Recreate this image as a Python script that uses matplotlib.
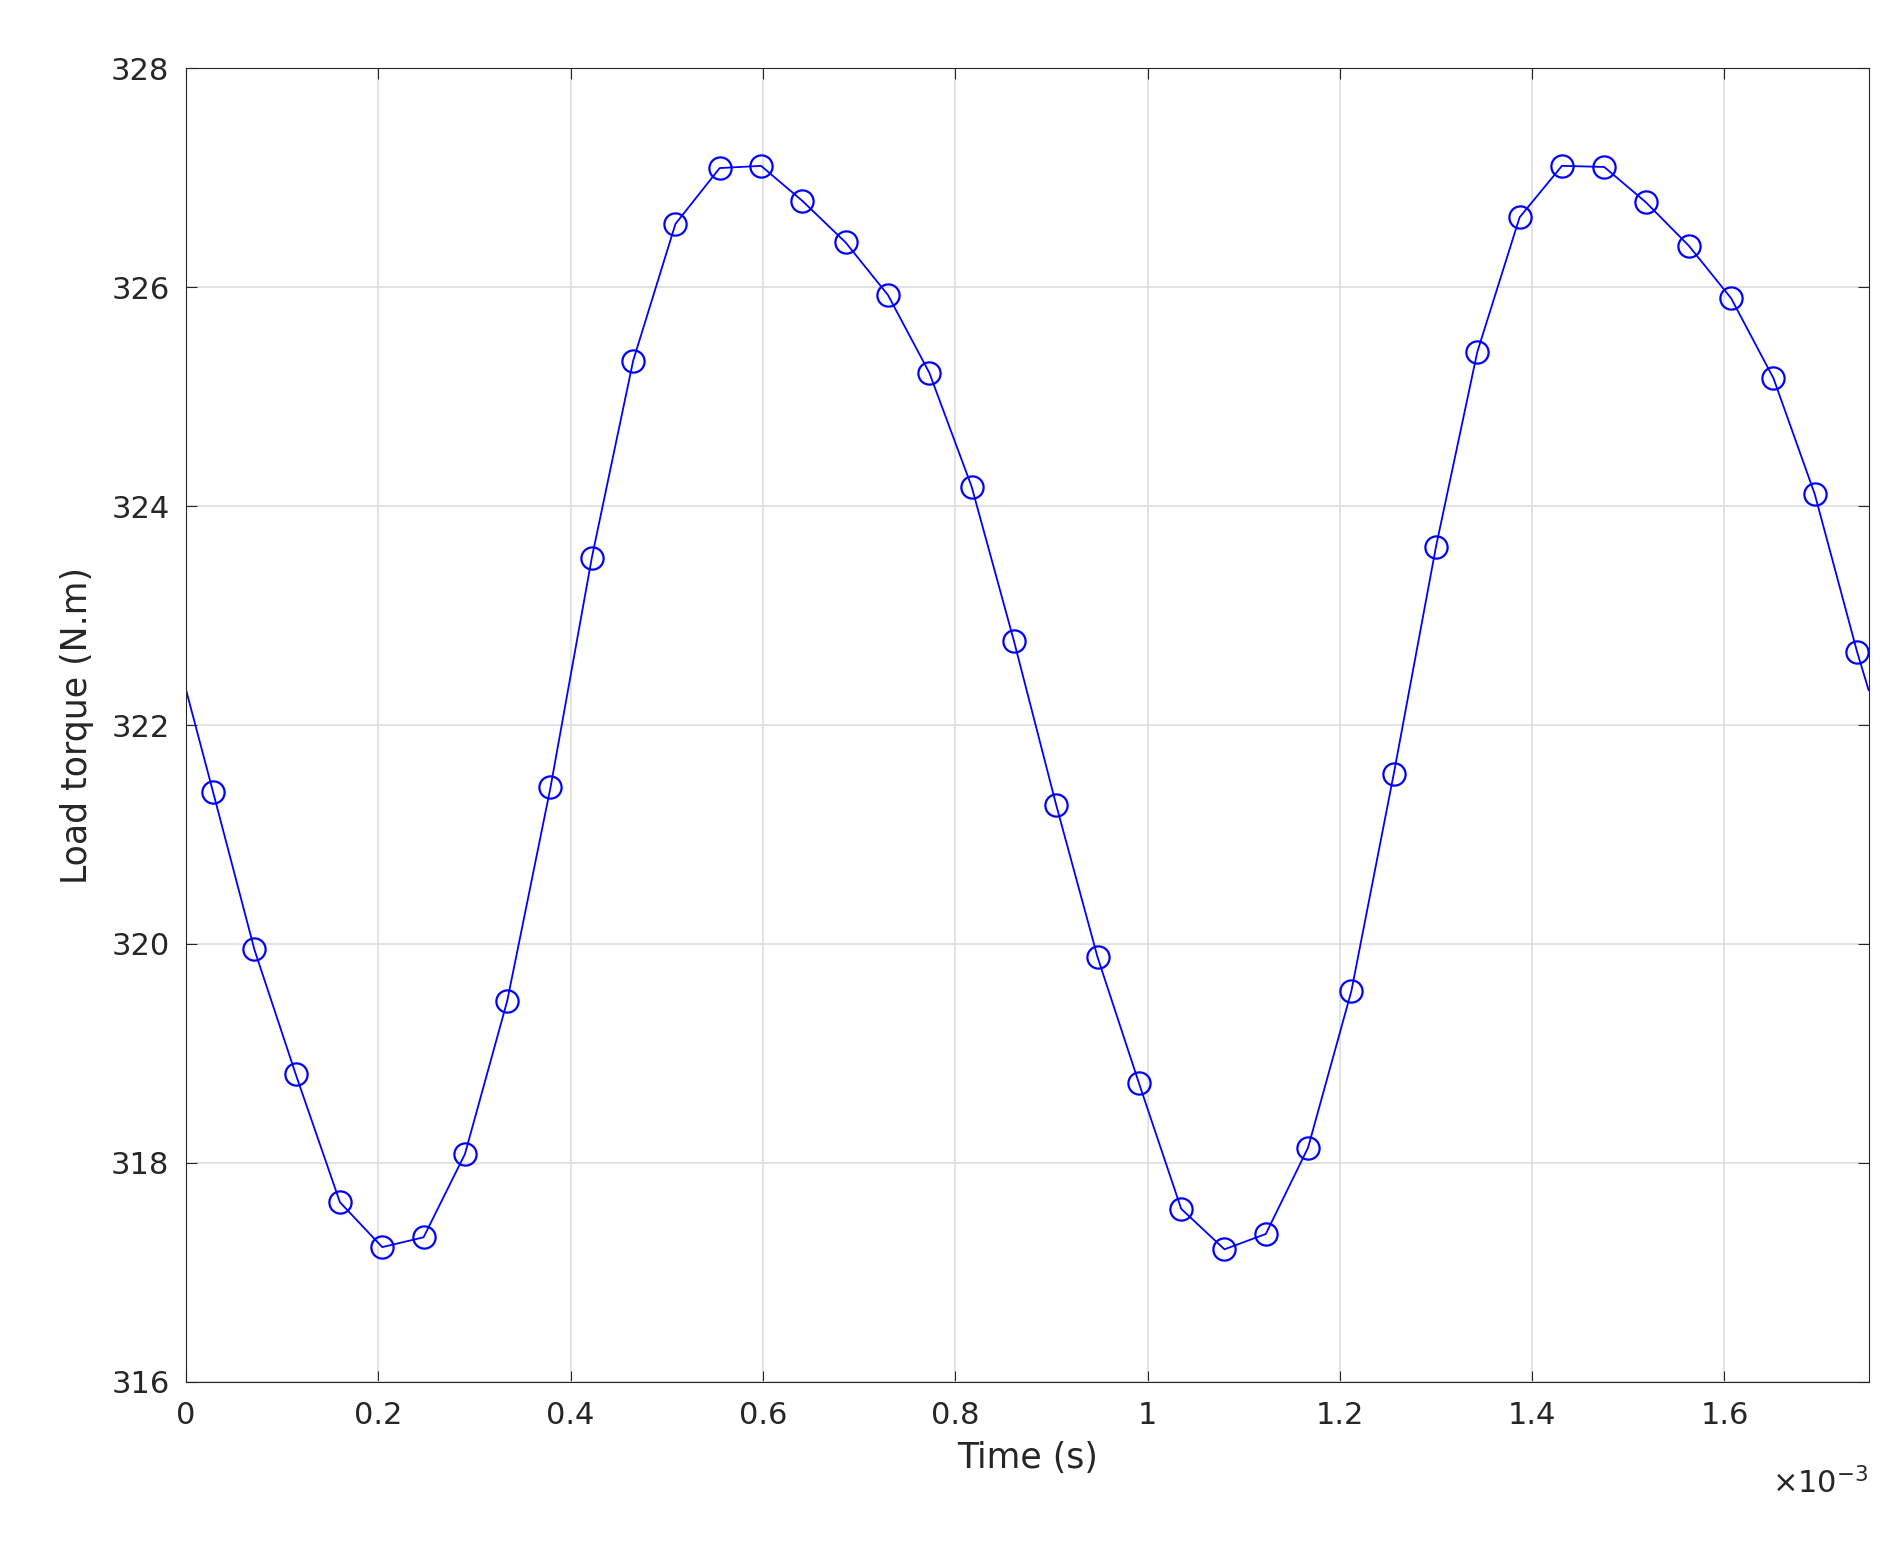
import numpy as np
import matplotlib.pyplot as plt

# time in ms (x1e-3 s), torque in N.m
t_ms = [0.0, 0.028, 0.071, 0.114, 0.160, 0.204, 0.247, 0.290, 0.334, 0.379, 0.422,
        0.465, 0.509, 0.555, 0.598, 0.641, 0.686, 0.730, 0.773, 0.817, 0.861,
        0.905, 0.948, 0.991, 1.035, 1.080, 1.123, 1.167, 1.212, 1.256, 1.300,
        1.343, 1.387, 1.431, 1.475, 1.518, 1.563, 1.607, 1.651, 1.694, 1.738, 1.75]
torque = [322.32, 321.39, 319.95, 318.81, 317.64, 317.23, 317.32, 318.08, 319.48,
          321.43, 323.53, 325.33, 326.58, 327.09, 327.11, 326.79, 326.41, 325.93,
          325.22, 324.18, 322.77, 321.27, 319.88, 318.73, 317.58, 317.21, 317.35,
          318.14, 319.57, 321.55, 323.63, 325.41, 326.64, 327.11, 327.10, 326.78,
          326.38, 325.90, 325.17, 324.11, 322.67, 322.32]

t = np.array(t_ms) * 1e-3
y = np.array(torque)

fig = plt.figure(figsize=(18.99, 15.56), dpi=100)
ax = fig.add_axes([0.098, 0.112, 0.886, 0.844])
ax.plot(t, y, color='#0000ff', lw=1.3)
ax.plot(t[1:-1], y[1:-1], 'o', mfc='none', mec='#0000ff', ms=16, mew=1.6)

ax.set_xlim(0, 1.75e-3)
ax.set_ylim(316, 328)
ax.set_xticks(np.arange(0, 1.75e-3, 0.2e-3))
ax.set_xticklabels(['0', '0.2', '0.4', '0.6', '0.8', '1', '1.2', '1.4', '1.6'])
ax.set_yticks(np.arange(316, 329, 2))
ax.grid(True, color='#dddddd', lw=1.2)
ax.tick_params(labelsize=22, colors='#262626', direction='in', length=8,
               top=True, right=True)
ax.tick_params(axis='x', pad=14)
ax.tick_params(axis='y', pad=12)
for s in ax.spines.values():
    s.set_color('#262626')
ax.set_xlabel('Time (s)', fontsize=25, color='#262626', labelpad=8)
ax.set_ylabel('Load torque (N.m)', fontsize=25, color='#262626', labelpad=12)
ax.text(1.0, -0.065, r'$\times10^{-3}$', transform=ax.transAxes, ha='right',
        va='top', fontsize=22, color='#262626')

fig.savefig('out.png')
